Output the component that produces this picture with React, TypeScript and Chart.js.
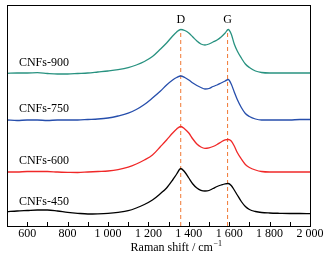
import React, { useEffect, useRef } from "react";
import { Chart, registerables } from "chart.js";

Chart.register(...registerables);

const waveNumbers = [500, 550, 600, 650, 700, 750, 800, 850, 900, 950, 1000, 1050, 1100, 1140, 1180, 1220, 1260, 1290, 1320, 1340, 1360, 1380, 1400, 1420, 1440, 1460, 1480, 1500, 1520, 1540, 1560, 1580, 1595, 1610, 1625, 1640, 1660, 1680, 1700, 1730, 1760, 1800, 1850, 1900, 1950, 2000];

const cnfs900 = [152.7, 153, 153, 153.3, 152.5, 152, 152, 152.5, 153, 154, 155, 156.3, 158.3, 161, 164.5, 169.5, 177, 183, 190, 194, 196.5, 195.5, 193, 189, 185, 182, 181, 182, 184, 186, 189, 193, 196.5, 192, 182, 175, 168, 162, 158.5, 155, 153.5, 153, 153, 153, 153, 153];
const cnfs750 = [106, 105.5, 106, 106, 105.5, 106, 106, 106, 106.5, 107, 108, 110, 112.8, 116.5, 121.5, 128, 135, 141, 146, 148.5, 150, 148.5, 146, 143, 140.5, 138.5, 137, 137.5, 139.5, 141, 143, 145, 146.5, 142, 134, 126.5, 118.5, 112.5, 109.5, 107, 106, 106, 106, 106, 106.5, 106.5];
const cnfs600 = [54, 54, 54.5, 54.5, 54.5, 54, 53.7, 53.5, 54, 54.5, 55, 56.3, 58.8, 62, 66, 71, 79.5, 86, 93, 97, 99.5, 97, 93, 87, 82, 79, 77.7, 78.2, 79.5, 81.5, 84, 86.2, 86.5, 85, 80, 73.5, 67, 61.5, 58.5, 56, 54.5, 54, 54, 54, 54, 54];
const cnfs450 = [14.3, 15, 15.5, 16, 16, 15, 13.7, 12.7, 12, 12.2, 12.7, 13.7, 15.3, 18, 21.5, 26, 32.5, 38, 46, 52, 57.5, 54, 48, 42, 38, 35.7, 35, 35.5, 37.5, 39.5, 41, 42.2, 42.5, 40.5, 36, 31, 24.5, 19.5, 16.5, 14.5, 13.5, 13, 12.7, 12.5, 12.5, 12.3];

const seriesNames = ["CNFs-900", "CNFs-750", "CNFs-600", "CNFs-450"];
const seriesLabelY = [163, 117, 65, 24];
const seriesLabelX = 559;

const peakNames = ["D", "G"];
const peakPositions = [1360, 1592];
const peakLineTop = 195;
const peakLabelY = 206;

const xMin = 500;
const xMax = 2000;
const yMin = 0;
const yMax = 221;

const SERIF = "'Liberation Serif', 'DejaVu Serif', serif";

function toPoints(vals: number[]) {
  return vals.map((v, i) => ({ x: waveNumbers[i], y: v }));
}

function fmt(v: number) {
  const s = String(v);
  if (s.length > 3) return s.slice(0, s.length - 3) + " " + s.slice(s.length - 3);
  return s;
}

const decorPlugin = {
  id: "decor",
  afterDraw(chart: any) {
    const { ctx, chartArea, scales } = chart;
    const xs = scales.x;
    const ys = scales.y;
    ctx.save();
    // frame
    ctx.strokeStyle = "#000";
    ctx.lineWidth = 1;
    ctx.strokeRect(
      Math.round(chartArea.left) + 0.5,
      Math.round(chartArea.top) + 0.5,
      Math.round(chartArea.right - chartArea.left),
      Math.round(chartArea.bottom - chartArea.top)
    );
    // inward ticks
    xs.ticks.forEach((t: any) => {
      const px = Math.round(xs.getPixelForValue(t.value)) + 0.5;
      if (t.value <= xMin || t.value >= xMax) return;
      ctx.beginPath();
      ctx.moveTo(px, chartArea.bottom);
      ctx.lineTo(px, chartArea.bottom - 4);
      ctx.stroke();
    });
    // series labels
    ctx.fillStyle = "#000";
    ctx.font = "12px " + SERIF;
    ctx.textBaseline = "middle";
    ctx.textAlign = "left";
    seriesNames.forEach((n, i) => {
      ctx.fillText(n, xs.getPixelForValue(seriesLabelX), ys.getPixelForValue(seriesLabelY[i]));
    });
    // peak labels
    ctx.textAlign = "center";
    peakNames.forEach((n, i) => {
      ctx.fillText(n, xs.getPixelForValue(peakPositions[i]), ys.getPixelForValue(peakLabelY));
    });
    // axis title
    const t1 = "Raman shift / cm";
    const sup = "\u22121";
    ctx.font = "12px " + SERIF;
    const w1 = ctx.measureText(t1).width;
    ctx.font = "8px " + SERIF;
    const w2 = ctx.measureText(sup).width;
    const cx = 176;
    const startX = cx - (w1 + w2) / 2;
    const ty = 248;
    ctx.textAlign = "left";
    ctx.font = "12px " + SERIF;
    ctx.fillText(t1, startX, ty);
    ctx.font = "8px " + SERIF;
    ctx.fillText(sup, startX + w1 + 0.5, ty - 4);
    ctx.restore();
  },
};

export default function App() {
  const ref = useRef<HTMLCanvasElement | null>(null);
  useEffect(() => {
    document.body.style.margin = "0";
    const canvas = ref.current;
    if (!canvas) return;
    const dashColor = "rgb(240,120,50)";
    const chart = new Chart(canvas, {
      type: "line",
      data: {
        datasets: [
          { label: seriesNames[0], data: toPoints(cnfs900), borderColor: "rgb(40,146,128)" },
          { label: seriesNames[1], data: toPoints(cnfs750), borderColor: "rgb(38,78,172)" },
          { label: seriesNames[2], data: toPoints(cnfs600), borderColor: "rgb(240,40,40)" },
          { label: seriesNames[3], data: toPoints(cnfs450), borderColor: "rgb(0,0,0)" },
          ...peakPositions.map((p, i) => ({
            label: peakNames[i],
            data: [
              { x: p, y: yMin },
              { x: p, y: peakLineTop },
            ],
            borderColor: dashColor,
            borderDash: [4, 3],
            borderWidth: 1,
            cubicInterpolationMode: "default" as const,
          })),
        ] as any,
      },
      options: {
        responsive: false,
        animation: false,
        events: [],
        layout: { padding: { left: 7, top: 5, right: 18, bottom: 0 } },
        elements: {
          point: { radius: 0 },
          line: { borderWidth: 1.3, cubicInterpolationMode: "monotone" },
        },
        plugins: { legend: { display: false }, tooltip: { enabled: false } },
        scales: {
          x: {
            type: "linear",
            min: xMin,
            max: xMax,
            grid: { display: false, drawTicks: false },
            border: { display: false },
            ticks: {
              stepSize: 100,
              autoSkip: false,
              maxRotation: 0,
              padding: 1,
              color: "#000",
              font: { family: SERIF, size: 12 },
              callback: (v: any) => {
                const n = Number(v);
                if (n === xMin || n % 200 !== 0) return "";
                return fmt(n);
              },
            },
            afterFit: (s: any) => {
              s.height = 33;
            },
          },
          y: {
            type: "linear",
            display: false,
            min: yMin,
            max: yMax,
          },
        },
      },
      plugins: [decorPlugin],
    });
    return () => chart.destroy();
  }, []);
  return (
    <div style={{ position: "absolute", left: 0, top: 0, width: 328, height: 259, background: "#fff" }}>
      <canvas ref={ref} width={328} height={259} />
    </div>
  );
}
